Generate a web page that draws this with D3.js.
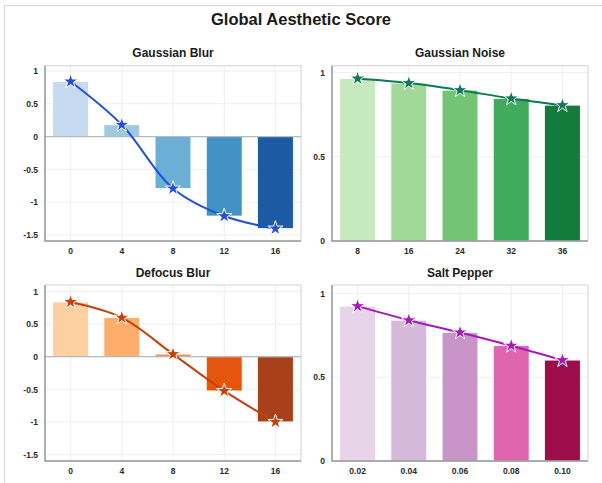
<!DOCTYPE html>
<html>
<head>
<meta charset="utf-8">
<script src="https://cdn.jsdelivr.net/npm/d3@7"></script>
<style>
  html, body { margin: 0; padding: 0; background: #fff; }
  svg { display: block; font-family: "Liberation Sans", Arial, Helvetica, sans-serif; }
</style>
</head>
<body>
<svg id="chart" width="602" height="483"></svg>
<script>
// ---- Data ----
const chartTitle = "Global Aesthetic Score";

const blurTitle = "Gaussian Blur";
const blurLevels = ["0", "4", "8", "12", "16"];
const blurScores = [0.84, 0.18, -0.79, -1.21, -1.40];
const blurTicks = [1, 0.5, 0, -0.5, -1, -1.5];
const blurColors = ["#c6dbef", "#9ecae1", "#6baed6", "#4292c6", "#1c5ba3"];
const blurLine = "#2450d8";

const noiseTitle = "Gaussian Noise";
const noiseLevels = ["8", "16", "24", "32", "36"];
const noiseScores = [0.964, 0.937, 0.895, 0.846, 0.806];
const noiseTicks = [1, 0.5, 0];
const noiseColors = ["#c7e9c0", "#a1d99b", "#74c476", "#41ab5d", "#137b3b"];
const noiseLine = "#0b7a55";

const defocusTitle = "Defocus Blur";
const defocusLevels = ["0", "4", "8", "12", "16"];
const defocusScores = [0.84, 0.60, 0.04, -0.525, -1.00];
const defocusTicks = [1, 0.5, 0, -0.5, -1, -1.5];
const defocusColors = ["#fdd0a2", "#fdae6b", "#fd8d3c", "#e6550d", "#a8401a"];
const defocusLine = "#c2410c";

const saltTitle = "Salt Pepper";
const saltLevels = ["0.02", "0.04", "0.06", "0.08", "0.10"];
const saltScores = [0.924, 0.840, 0.767, 0.688, 0.602];
const saltTicks = [1, 0.5, 0];
const saltColors = ["#e7d4e8", "#d4b9da", "#c994c7", "#df65b0", "#9c0d4a"];
const saltLine = "#a51ab8";

// ---- Layout ----
const svg = d3.select("#chart");

svg.append("rect")
  .attr("x", 4.5).attr("y", 5.5)
  .attr("width", 700).attr("height", 600)
  .attr("fill", "none").attr("stroke", "#d9d9d9").attr("stroke-width", 1.2);

svg.append("text")
  .attr("x", 301).attr("y", 25)
  .attr("text-anchor", "middle")
  .attr("font-size", 16.5).attr("font-weight", "bold").attr("fill", "#1a1a1a")
  .text(chartTitle);

const panels = [
  { title: blurTitle, levels: blurLevels, scores: blurScores, ticks: blurTicks, colors: blurColors, line: blurLine,
    x0: 45, x1: 301, y0: 65.7, y1: 241, domain: [-1.59, 1.08], titleY: 57 },
  { title: noiseTitle, levels: noiseLevels, scores: noiseScores, ticks: noiseTicks, colors: noiseColors, line: noiseLine,
    x0: 332, x1: 588, y0: 65.7, y1: 241, domain: [0, 1.04], titleY: 57 },
  { title: defocusTitle, levels: defocusLevels, scores: defocusScores, ticks: defocusTicks, colors: defocusColors, line: defocusLine,
    x0: 45, x1: 301, y0: 285, y1: 461, domain: [-1.6, 1.1], titleY: 277 },
  { title: saltTitle, levels: saltLevels, scores: saltScores, ticks: saltTicks, colors: saltColors, line: saltLine,
    x0: 332, x1: 588, y0: 285, y1: 461, domain: [0, 1.05], titleY: 277 }
];

const fmt = v => String(v).replace("\u2212", "-");

panels.forEach(p => {
  const g = svg.append("g");
  const x = d3.scaleBand().domain(p.levels).range([p.x0, p.x1]).paddingInner(0.3).paddingOuter(0.15);
  const xc = d => x(d) + x.bandwidth() / 2;
  const y = d3.scaleLinear().domain(p.domain).range([p.y1, p.y0]);

  // title
  g.append("text")
    .attr("x", (p.x0 + p.x1) / 2).attr("y", p.titleY)
    .attr("text-anchor", "middle")
    .attr("font-size", 12).attr("font-weight", "bold").attr("fill", "#1a1a1a")
    .text(p.title);

  // grid
  g.selectAll(".hg").data(p.ticks).enter().append("line")
    .attr("x1", p.x0).attr("x2", p.x1)
    .attr("y1", d => y(d)).attr("y2", d => y(d))
    .attr("stroke", "#eceef1").attr("stroke-width", 1);
  g.selectAll(".vg").data(p.levels).enter().append("line")
    .attr("x1", d => xc(d)).attr("x2", d => xc(d))
    .attr("y1", p.y0).attr("y2", p.y1)
    .attr("stroke", "#eceef1").attr("stroke-width", 1);

  // frame top/right
  g.append("path")
    .attr("d", `M${p.x0},${p.y0}H${p.x1}V${p.y1}`)
    .attr("fill", "none").attr("stroke", "#cfd2d6").attr("stroke-width", 1);

  // bars
  g.selectAll(".bar").data(p.levels).enter().append("rect")
    .attr("x", d => x(d))
    .attr("width", x.bandwidth())
    .attr("y", (d, i) => Math.min(y(p.scores[i]), y(0)))
    .attr("height", (d, i) => Math.abs(y(p.scores[i]) - y(0)))
    .attr("fill", (d, i) => p.colors[i])
    .attr("stroke", "#ffffff").attr("stroke-width", 0.8);

  // zero line
  if (p.domain[0] < 0) {
    g.append("line")
      .attr("x1", p.x0).attr("x2", p.x1)
      .attr("y1", y(0)).attr("y2", y(0))
      .attr("stroke", "#b4bac2").attr("stroke-width", 1.2);
  }

  // line
  const pts = p.levels.map((d, i) => [xc(d), y(p.scores[i])]);
  g.append("path")
    .attr("d", d3.line().curve(d3.curveCatmullRom.alpha(0.5))(pts))
    .attr("fill", "none").attr("stroke", p.line).attr("stroke-width", 2);

  // stars
  g.selectAll(".star").data(pts).enter().append("path")
    .attr("transform", d => `translate(${d[0]},${d[1]})`)
    .attr("d", d3.symbol().type(d3.symbolStar).size(70))
    .attr("fill", p.line).attr("stroke", "#ffffff").attr("stroke-width", 1);

  // axes (left/bottom)
  const ay = g.append("g").attr("transform", `translate(${p.x0},0)`)
    .call(d3.axisLeft(y).tickValues(p.ticks).tickSize(0).tickPadding(7).tickFormat(fmt));
  ay.select(".domain").remove();
  ay.selectAll("text").attr("font-size", 8.5).attr("font-weight", "bold").attr("fill", "#2a2a2a")
    .attr("font-family", "'Liberation Sans', Arial, sans-serif");

  const ax = g.append("g").attr("transform", `translate(0,${p.y1})`)
    .call(d3.axisBottom(x).tickSize(0).tickPadding(7));
  ax.select(".domain").remove();
  ax.selectAll("text").attr("font-size", 8.5).attr("font-weight", "bold").attr("fill", "#2a2a2a")
    .attr("font-family", "'Liberation Sans', Arial, sans-serif");

  g.append("path")
    .attr("d", `M${p.x0},${p.y0}V${p.y1}H${p.x1}`)
    .attr("fill", "none").attr("stroke", "#8f959c").attr("stroke-width", 1.5);
});
</script>
</body>
</html>
